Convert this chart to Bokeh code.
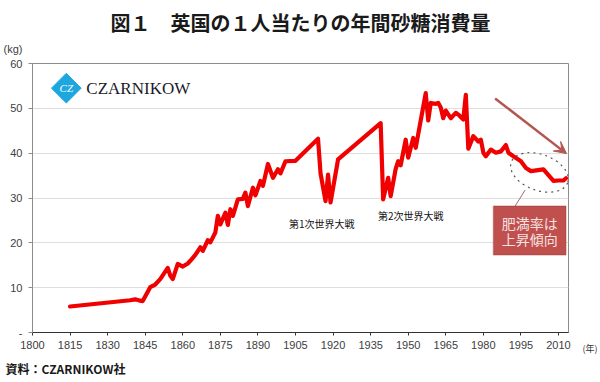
from bokeh.plotting import figure
from bokeh.models import (ColumnDataSource, FixedTicker, Label, Arrow, VeeHead,
                          BoxAnnotation, Range1d, LinearAxis, Title)
from bokeh.embed import file_html
from bokeh.resources import INLINE

# ---------------- data ----------------
years = [1815, 1839, 1841, 1843, 1844, 1847, 1849, 1851, 1854, 1855, 1856,
         1858, 1860, 1862, 1863, 1865, 1867, 1868, 1870, 1871, 1873, 1874,
         1875, 1877, 1878, 1879, 1880, 1882, 1884, 1885, 1886, 1888, 1889,
         1891, 1892, 1894, 1896, 1898, 1899, 1901, 1905, 1914, 1915, 1917,
         1918, 1919, 1922, 1939, 1940, 1942, 1943, 1945, 1946, 1947, 1949,
         1950, 1952, 1953, 1957, 1958, 1959, 1961, 1962, 1963, 1964, 1965,
         1967, 1969, 1970, 1972, 1973, 1974, 1976, 1978, 1979, 1980, 1981,
         1983, 1985, 1987, 1989, 1990, 1992, 1995, 1997, 1999, 2004, 2008,
         2010, 2012, 2013]
sugar_kg = [5.8, 7.2, 7.4, 7.1, 7.0, 10.1, 10.7, 11.9, 14.4, 12.7, 11.9,
            15.3, 14.7, 15.4, 16.0, 17.3, 19.0, 18.2, 20.6, 20.1, 22.3, 26.0,
            24.1, 26.7, 24.0, 27.5, 26.0, 29.7, 29.8, 31.2, 28.2, 32.3, 30.6,
            33.8, 32.7, 37.6, 34.5, 36.4, 35.5, 38.2, 38.3, 43.2, 35.5, 29.3,
            35.2, 29.0, 38.6, 46.7, 29.7, 34.5, 30.4, 36.5, 38.2, 37.3, 43.0,
            39.0, 43.4, 41.2, 53.4, 47.3, 51.2, 51.0, 51.2, 50.2, 47.8, 49.5,
            47.8, 49.0, 48.6, 47.5, 53.0, 41.0, 43.8, 42.6, 43.0, 40.1, 39.3,
            40.8, 40.1, 40.4, 41.8, 40.1, 39.3, 38.2, 36.7, 36.0, 36.4, 33.8,
            33.9, 33.9, 34.4]

x_ticks = [1800, 1815, 1830, 1845, 1860, 1875, 1890, 1905, 1920, 1935,
           1950, 1965, 1980, 1995, 2010]
y_ticks = [0, 10, 20, 30, 40, 50, 60]
y_unit = "(kg)"
x_unit = "(年)"
y_tick_overrides = {0: "-", 60: y_unit + "\n60\n"}

title_text = "図１　英国の１人当たりの年間砂糖消費量"
source_text = "資料：CZARNIKOW社"
war1 = "第1次世界大戦"
war2 = "第2次世界大戦"
box_lines = ["肥満率は", "上昇傾向"]
logo_text = "CZARNIKOW"

cjk = "Noto Sans CJK JP"

# ---------------- figure ----------------
p = figure(width=600, height=382, output_backend="svg", toolbar_location=None,
           x_range=Range1d(1800, 2014), y_range=Range1d(0, 60),
           min_border_left=32, min_border_right=28, min_border_top=63,
           min_border_bottom=50)
p.background_fill_color = "white"
p.border_fill_color = "white"
p.outline_line_color = "#8c8c8c"
p.outline_line_width = 1

# blank spacer between the frame and the title
p.add_layout(Title(text=" ", text_font_size="10px", standoff=8), "above")

p.title.text = title_text
p.title.align = "center"
p.title.text_font = cjk
p.title.text_font_size = "20px"
p.title.text_font_style = "bold"
p.title.text_color = "#1a1a1a"
p.title.vertical_align = "top"
p.title.standoff = 8

src = ColumnDataSource(dict(x=years, y=sugar_kg))
p.line("x", "y", source=src, line_color="#f00000", line_width=4.2,
       line_join="round", line_cap="round")

# axes
p.xaxis.ticker = FixedTicker(ticks=x_ticks)
p.yaxis.ticker = FixedTicker(ticks=y_ticks)
p.yaxis.major_label_overrides = y_tick_overrides
for ax in (p.xaxis[0], p.yaxis[0]):
    ax.major_label_text_font = "Liberation Sans"
    ax.major_label_text_font_size = "11px"
    ax.major_label_text_color = "#404040"
    ax.minor_tick_line_color = None
    ax.major_tick_in = 0
p.xaxis.axis_line_color = "#333333"
p.xaxis.major_tick_line_color = "#333333"
p.xaxis.major_tick_out = 3
p.xaxis.major_label_standoff = 5
p.yaxis.axis_line_color = "#8c8c8c"
p.yaxis.major_tick_line_color = "#8c8c8c"
p.yaxis.major_tick_out = 4
p.yaxis.major_label_standoff = 6

# unit of the x axis, shown at the right end below the frame
unit_axis = LinearAxis(ticker=FixedTicker(ticks=[0]),
                       major_label_overrides={0: "\n\n" + x_unit},
                       axis_line_color=None, major_tick_line_color=None,
                       minor_tick_line_color=None, major_label_standoff=8,
                       major_label_text_font=cjk,
                       major_label_text_font_size="9px",
                       major_label_text_color="#333333")
p.add_layout(unit_axis, "right")

p.xgrid.grid_line_color = None
p.ygrid.grid_line_color = "#dedede"
p.ygrid.grid_line_width = 1

# source note
p.add_layout(Title(text=source_text, align="left", offset=-27,
                   text_font=cjk, text_font_size="12px",
                   text_font_style="bold", text_color="#1a1a1a",
                   vertical_align="bottom", standoff=12), "below")

# ---------------- annotations ----------------
p.add_layout(Label(x=1915.5, y=24.3, text=war1, text_font=cjk,
                   text_font_size="10px", text_color="#111111",
                   text_align="center", text_baseline="middle"))
p.add_layout(Label(x=1951.0, y=26.2, text=war2, text_font=cjk,
                   text_font_size="10px", text_color="#111111",
                   text_align="center", text_baseline="middle"))

# logo
p.scatter(x=[1813.5], y=[54.5], marker="square", size=21, angle=0.785398,
          fill_color="#1ea6df", line_color="#1ea6df")
p.add_layout(Label(x=1813.5, y=54.5, text="CZ", text_font="Liberation Serif",
                   text_font_size="11px", text_font_style="italic",
                   text_color="white", text_align="center",
                   text_baseline="middle"))
p.add_layout(Label(x=1821.5, y=54.5, text=logo_text,
                   text_font="Liberation Serif", text_font_size="17px",
                   text_color="#1b1b2a", text_align="left",
                   text_baseline="middle"))

# trend arrow
p.add_layout(Arrow(end=VeeHead(size=12, line_color="#b5554f",
                               fill_color="#b5554f", line_width=1),
                   x_start=1984.7, y_start=52.2, x_end=2013.2, y_end=39.9,
                   line_color="#b5554f", line_width=2.5))

# dotted ellipse
p.ellipse(x=[2002.4], y=[35.7], width=[60], height=[36], angle=-0.35,
          width_units="screen", height_units="screen", fill_color=None,
          line_color="#555555", line_dash="dotted", line_width=1.2)
# connector
p.line(x=[1996.7, 1992.7], y=[31.8, 28.2], line_color="#a07070",
       line_width=1)

# callout box
p.add_layout(BoxAnnotation(left=1984.0, right=2013.0, bottom=17.3, top=28.2,
                           fill_color="#c0504d", fill_alpha=1.0,
                           line_color="#8e3b39", line_width=1.5))
p.add_layout(Label(x=1998.5, y=24.4, text=box_lines[0], text_font=cjk,
                   text_font_size="14px", text_color="#f5e1e0",
                   text_align="center", text_baseline="middle"))
p.add_layout(Label(x=1998.5, y=20.9, text=box_lines[1], text_font=cjk,
                   text_font_size="14px", text_color="#f5e1e0",
                   text_align="center", text_baseline="middle"))

open("out.html", "w").write(file_html(p, INLINE))
